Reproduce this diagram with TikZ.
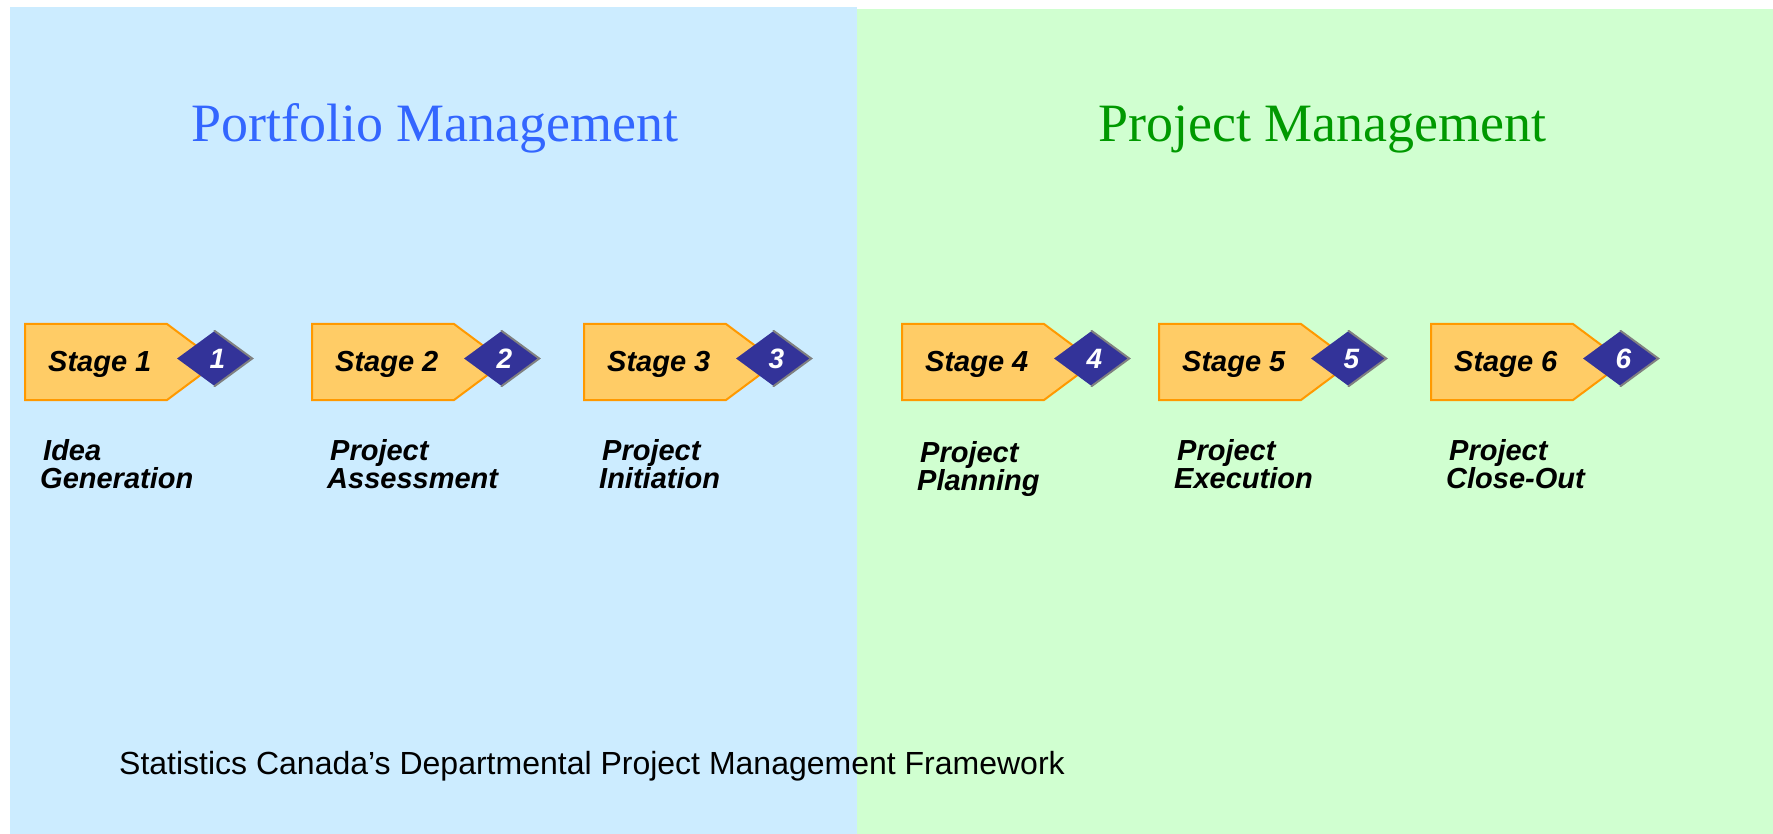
\documentclass[tikz,border=0pt]{standalone}
\usepackage{fontspec}
\setmainfont{Liberation Sans}
\newfontfamily\titlefont{Liberation Serif}
\usetikzlibrary{shapes.geometric}
\definecolor{bgblue}{HTML}{CCECFF}
\definecolor{bggreen}{HTML}{D0FFD0}
\definecolor{stagefill}{HTML}{FFCC66}
\definecolor{stageline}{HTML}{FF9900}
\definecolor{diamfill}{HTML}{333399}
\definecolor{diamline}{HTML}{808080}
\definecolor{titleblue}{HTML}{3366FF}
\definecolor{titlegreen}{HTML}{009900}
\tikzset{
  stagebox/.style={fill=stagefill,draw=stageline,line width=2pt,line join=miter},
  numdiam/.style={diamond,fill=diamfill,minimum width=75pt,minimum height=55pt,inner sep=0pt,aspect=1.36},
  numtext/.style={text=white,font=\fontsize{28}{28}\selectfont\bfseries\itshape,inner sep=0pt,anchor=base},
  stagetext/.style={font=\fontsize{29}{28}\selectfont\bfseries\itshape,inner sep=0pt,anchor=base west},
  labeltext/.style={font=\fontsize{29}{28}\selectfont\bfseries\itshape,inner sep=0pt,anchor=north west,align=left},
  titletext/.style={font=\fontsize{54}{54}\selectfont\titlefont,inner sep=0pt,anchor=base west},
  foottext/.style={font=\fontsize{32}{32}\selectfont,inner sep=0pt,anchor=base west}
}
\newcommand{\stagegroup}[5]{%
  % #1 left x, #2 index, #3 label first line, #4 label second line, #5 label y shift
  \draw[stagebox] (#1,324) -- (#1+142,324) -- (#1+193,362) -- (#1+142,400) -- (#1,400) -- cycle;
  \node[stagetext] (st#2) at (#1+23,371) {Stage #2};
  \node[numdiam] (dm#2) at (#1+189.5,358.5) {};
  \draw[diamline,line width=2pt,line cap=round] (dm#2.north) -- (dm#2.east) -- (dm#2.south);
  \node[numtext] (nm#2) at ([xshift=3pt,yshift=-10pt]dm#2.center) {#2};
  \node[labeltext] (lb#2) at (#1+15,439+#5) {\hspace*{3pt}#3\\#4};
}
\begin{document}
\begin{tikzpicture}[x=1pt,y=-1pt]
\useasboundingbox (0,0) rectangle (1773,834);
\fill[white] (0,0) rectangle (1773,834);
\fill[bgblue] (10,7) rectangle (857,834);
\fill[bggreen] (857,9) rectangle (1773,834);
\node[titletext,text=titleblue] (t1) at (191,142) {Portfolio Management};
\node[titletext,text=titlegreen] (t2) at (1098,142) {Project Management};
\stagegroup{25}{1}{Idea}{Generation}{0}
\stagegroup{312}{2}{Project}{Assessment}{0}
\stagegroup{584}{3}{Project}{Initiation}{0}
\stagegroup{902}{4}{Project}{Planning}{2}
\stagegroup{1159}{5}{Project}{Execution}{0}
\stagegroup{1431}{6}{Project}{Close-Out}{0}
\node[foottext] (ft) at (119,774) {Statistics Canada’s Departmental Project Management Framework};
\end{tikzpicture}
\end{document}
